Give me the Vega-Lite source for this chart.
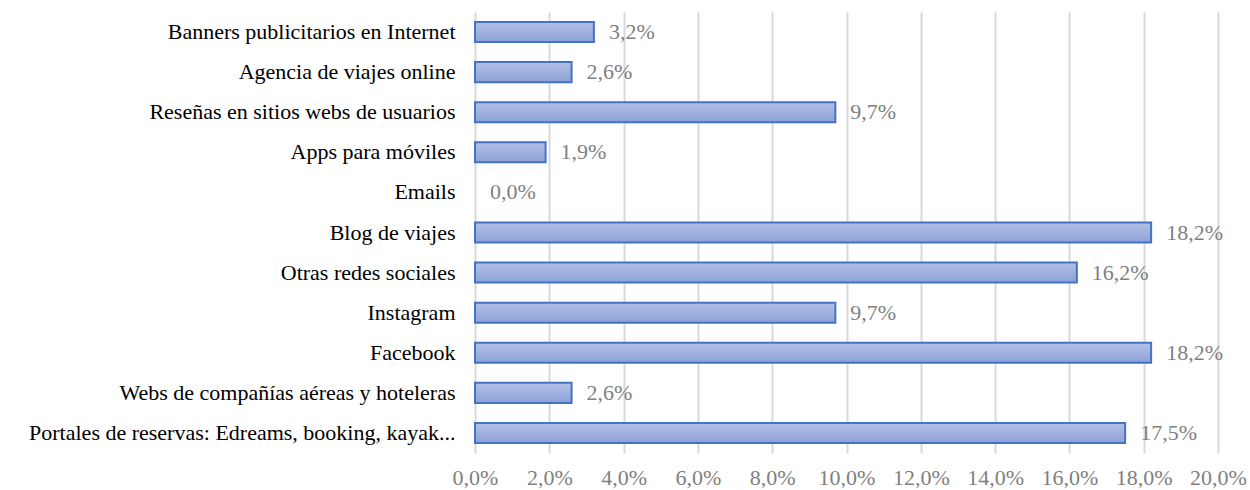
{
  "$schema": "https://vega.github.io/schema/vega-lite/v6.json",
  "width": 743,
  "height": 441,
  "autosize": {"type": "none"},
  "padding": {"left": 475, "top": 12, "right": 32, "bottom": 37},
  "background": "white",
  "config": {
    "view": {"stroke": null},
    "locale": {"number": {"decimal": ",", "thousands": ".", "grouping": [3], "currency": ["", " €"]}},
    "font": "Liberation Serif"
  },
  "data": {
    "values": [
      {"cat": "Banners publicitarios en Internet", "v": 0.032},
      {"cat": "Agencia de viajes online", "v": 0.026},
      {"cat": "Reseñas en sitios webs de usuarios", "v": 0.097},
      {"cat": "Apps para móviles", "v": 0.019},
      {"cat": "Emails", "v": 0.0},
      {"cat": "Blog de viajes", "v": 0.182},
      {"cat": "Otras redes sociales ", "v": 0.162},
      {"cat": "Instagram", "v": 0.097},
      {"cat": "Facebook", "v": 0.182},
      {"cat": "Webs de compañías aéreas y hoteleras", "v": 0.026},
      {"cat": "Portales de reservas: Edreams, booking, kayak...", "v": 0.175}
    ]
  },
  "encoding": {
    "y": {
      "field": "cat", "type": "nominal", "sort": null, "title": null,
      "scale": {"paddingInner": 0.5, "paddingOuter": 0.25},
      "axis": {"domain": false, "ticks": false, "labelFont": "Liberation Serif", "labelFontSize": 22, "labelColor": "#000000", "labelPadding": 20, "labelLimit": 500}
    },
    "x": {
      "field": "v", "type": "quantitative", "title": null,
      "scale": {"domain": [0, 0.2], "nice": false},
      "axis": {"format": ".1%", "values": [0, 0.02, 0.04, 0.06, 0.08, 0.1, 0.12, 0.14, 0.16, 0.18, 0.2], "domain": false, "ticks": false, "grid": true, "gridColor": "#d9d9d9", "gridWidth": 2, "labelFont": "Liberation Serif", "labelFontSize": 22, "labelColor": "#808080", "labelPadding": 14, "labelOverlap": false, "labelFlush": false}
    }
  },
  "layer": [
    {
      "mark": {
        "type": "bar",
        "strokeWidth": 2,
        "fill": {"gradient": "linear", "x1": 0, "y1": 0, "x2": 0, "y2": 1, "stops": [{"offset": 0, "color": "#b3c1e5"}, {"offset": 1, "color": "#8da1d6"}]}
      },
      "encoding": {
        "stroke": {"condition": {"test": "datum.v == 0", "value": null}, "value": "#4472c4"}
      }
    },
    {
      "mark": {"type": "text", "align": "left", "baseline": "middle", "dx": 15, "font": "Liberation Serif", "fontSize": 22, "color": "#808080"},
      "encoding": {"text": {"field": "v", "type": "quantitative", "format": ".1%"}}
    }
  ]
}
